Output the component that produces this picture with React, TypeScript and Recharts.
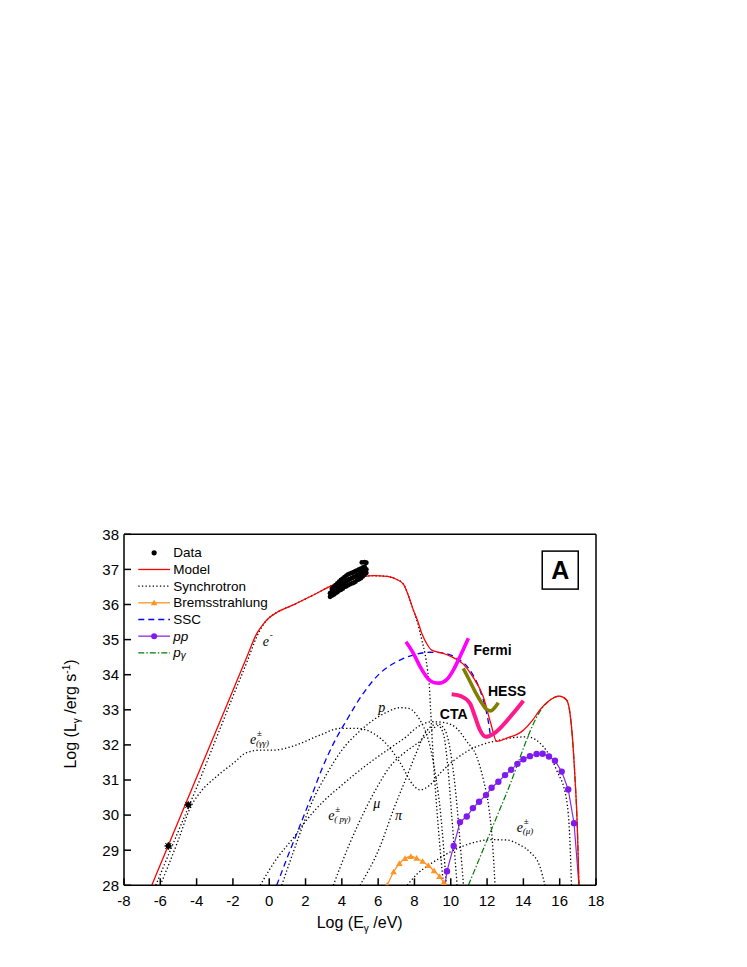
import React from 'react';
import { ComposedChart, Line, Scatter, XAxis, YAxis, ReferenceDot } from 'recharts';

type P = [number, number];

// ---------- ticks ----------
const xMajorTicks = [-8, -6, -4, -2, 0, 2, 4, 6, 8, 10, 12, 14, 16, 18];
const xMinorTicks = [-7, -5, -3, -1, 1, 3, 5, 7, 9, 11, 13, 15, 17];
const yMajorTicks = [28, 29, 30, 31, 32, 33, 34, 35, 36, 37, 38];
const yMinorTicks = [28.5, 29.5, 30.5, 31.5, 32.5, 33.5, 34.5, 35.5, 36.5, 37.5];

// ---------- series ----------
const modelPts: P[] = [
  [-6.47, 28], [-5, 29.83], [-3.5, 31.69], [-2, 33.55], [-1.2, 34.55], [-0.69, 35.17], [-0.36, 35.42],
  [-0.05, 35.6], [0.41, 35.77], [1.33, 35.99], [2.43, 36.27], [3.53, 36.56], [4.6, 36.74], [5.74, 36.82],
  [6.5, 36.8], [7.0, 36.72], [7.39, 36.58], [7.75, 36.13], [7.94, 35.84], [8.16, 35.56], [8.4, 35.18],
  [8.67, 34.89], [8.95, 34.7], [9.5, 34.62], [10.0, 34.52], [10.69, 34.3], [11.2, 33.95], [11.79, 33.37],
  [12.2, 32.62], [12.53, 32.1], [13.08, 32.19], [14.0, 32.42], [14.5, 32.7], [14.91, 33.0], [15.47, 33.28],
  [15.98, 33.39], [16.38, 33.28], [16.65, 32.52], [16.84, 31.09], [16.97, 29.67], [17.06, 28],
];

const syncElectron: P[] = [
  [-6.25, 28], [-5, 29.55], [-4.05, 30.72], [-3, 32.08], [-2, 33.38], [-1.2, 34.4], [-0.69, 35.08],
  [-0.36, 35.4], [-0.05, 35.6], [0.41, 35.77], [1.33, 35.99], [2.43, 36.27], [3.53, 36.56], [4.6, 36.74],
  [5.74, 36.82], [6.5, 36.8], [7.0, 36.72], [7.39, 36.58], [7.75, 36.13], [7.94, 35.84], [8.16, 35.5],
  [8.4, 35.0], [8.58, 34.6], [8.72, 34.13], [8.82, 33.66], [8.9, 32.9], [9.04, 31.6], [9.31, 29.67], [9.6, 28],
];

const syncPairGG: P[] = [
  [-6.0, 28], [-5.0, 29.3], [-4.36, 30.2], [-3.8, 30.65], [-2.9, 31.1], [-2.0, 31.47], [-1.24, 31.78],
  [-0.5, 31.85], [0.23, 31.85], [1.33, 31.97], [2.8, 32.28], [3.9, 32.47], [4.82, 32.47], [5.73, 32.33],
  [6.5, 32.0], [7.2, 31.5], [7.94, 30.85], [8.3, 30.72], [8.86, 30.86], [9.41, 31.19], [10.88, 31.81],
  [12.71, 32.14], [14.18, 32.23], [15.1, 31.95], [15.83, 31.28], [16.38, 30.43], [16.56, 29.29], [16.65, 28],
];

const syncProton: P[] = [
  [0.69, 28], [1.5, 29.2], [2.33, 30.34], [3.2, 31.2], [4.0, 31.85], [5.0, 32.4], [6.0, 32.8], [6.47, 32.93],
  [7.2, 33.06], [7.75, 33.03], [8.12, 32.85], [8.4, 32.62], [8.67, 32.3], [8.86, 31.95], [9.04, 31.5],
  [9.2, 31.0], [9.41, 30.2], [9.6, 29.1], [9.75, 28],
];

const syncPairPG: P[] = [
  [-0.5, 28], [0.4, 28.75], [1.33, 29.35], [2.06, 29.86], [3.0, 30.4], [3.9, 30.81], [4.8, 31.2],
  [5.73, 31.57], [6.5, 31.85], [7.02, 32.04], [7.57, 32.24], [7.94, 32.42], [8.49, 32.6], [9.04, 32.66],
  [9.78, 32.62], [10.33, 32.47], [10.88, 32.1], [11.4, 31.7], [11.8, 31.0], [12.1, 30.2], [12.3, 29.2], [12.44, 28],
];

const syncMuon: P[] = [
  [3.53, 28], [4.4, 29.15], [5.37, 30.24], [6.0, 30.85], [6.65, 31.38], [7.5, 31.8], [8.3, 32.1],
  [8.9, 32.4], [9.3, 32.55], [9.6, 32.3], [9.85, 31.3], [10.05, 30.0], [10.2, 29.0], [10.35, 28],
];

const syncPion: P[] = [
  [5.0, 28], [6.1, 29.1], [6.84, 30.15], [7.57, 31.09], [8.12, 31.8], [8.49, 32.25], [8.86, 32.5],
  [9.3, 32.6], [9.7, 32.4], [10.05, 31.6], [10.3, 30.5], [10.5, 29.3], [10.7, 28],
];

const syncPairMu: P[] = [
  [7.6, 28], [8.1, 28.3], [8.8, 28.58], [9.41, 28.78], [10.0, 28.96], [10.69, 29.12], [11.5, 29.25],
  [12.16, 29.3], [13.08, 29.29], [13.8, 29.15], [14.36, 28.95], [14.91, 28.53], [15.19, 28],
];

const bremsPts: P[] = [
  [6.5, 28.0], [6.85, 28.38], [7.17, 28.62], [7.48, 28.76], [7.8, 28.82], [8.12, 28.77], [8.45, 28.68],
  [8.77, 28.56], [9.08, 28.41], [9.38, 28.25], [9.62, 28.08], [9.75, 28.0],
];

const sscPts: P[] = [
  [0.41, 28], [1.0, 28.8], [1.6, 29.58], [2.3, 30.5], [2.89, 31.3], [3.6, 32.1], [4.27, 32.71], [5.18, 33.47],
  [6.1, 34.04], [7.02, 34.37], [7.94, 34.56], [8.86, 34.64], [9.41, 34.63], [10.33, 34.47], [11.06, 34.13],
  [11.61, 33.56], [11.94, 32.99], [12.12, 32.5], [12.2, 32.2],
];

const ppPts: P[] = [
  [9.68, 28.0], [9.79, 28.4], [10.16, 29.12], [10.51, 29.8], [10.88, 29.96], [11.22, 30.2], [11.56, 30.38],
  [11.94, 30.57], [12.25, 30.78], [12.62, 30.95], [12.99, 31.14], [13.32, 31.29], [13.67, 31.46], [14.0, 31.59],
  [14.36, 31.68], [14.73, 31.74], [15.06, 31.75], [15.41, 31.67], [15.74, 31.55], [16.11, 31.24], [16.47, 30.73],
  [16.79, 29.77], [17.06, 28.0],
];

const pgammaPts: P[] = [
  [10.97, 28], [13.0, 30.53], [15.1, 33.09], [15.47, 33.28], [15.98, 33.39], [16.38, 33.28], [16.65, 32.52],
  [16.84, 31.09], [16.97, 29.67], [17.06, 28],
];

const fermiPts: P[] = [
  [7.53, 34.94], [7.94, 34.61], [8.31, 34.23], [8.76, 33.88], [9.1, 33.77], [9.35, 33.76], [9.78, 33.86],
  [10.14, 34.13], [10.51, 34.52], [10.97, 35.04],
];
const hessPts: P[] = [
  [10.69, 34.18], [10.97, 33.9], [11.34, 33.52], [11.7, 33.2], [11.95, 33.02], [12.2, 32.97], [12.4, 33.05], [12.62, 33.2],
];
const ctaPts: P[] = [
  [10.05, 33.44], [10.6, 33.38], [11.06, 33.18], [11.34, 32.8], [11.61, 32.42], [11.94, 32.23], [12.34, 32.31],
  [12.89, 32.57], [13.44, 32.9], [14.0, 33.26],
];

// observed data (dense band of points) and two low-energy points
const dataBand: P[] = [
  [3.35, 36.22], [3.35, 36.32], [3.45, 36.25], [3.45, 36.38], [3.45, 36.45], [3.55, 36.28], [3.55, 36.4], [3.55, 36.5],
  [3.65, 36.32], [3.65, 36.45], [3.65, 36.55], [3.75, 36.35], [3.75, 36.5], [3.75, 36.6], [3.85, 36.4], [3.85, 36.52],
  [3.85, 36.65], [3.95, 36.42], [3.95, 36.56], [3.95, 36.7], [4.05, 36.45], [4.05, 36.6], [4.05, 36.74], [4.15, 36.5],
  [4.15, 36.62], [4.15, 36.78], [4.25, 36.52], [4.25, 36.67], [4.25, 36.82], [4.35, 36.55], [4.35, 36.7], [4.35, 36.86],
  [4.45, 36.58], [4.45, 36.73], [4.45, 36.88], [4.55, 36.6], [4.55, 36.75], [4.55, 36.9], [4.65, 36.62], [4.65, 36.78],
  [4.65, 36.92], [4.75, 36.65], [4.75, 36.8], [4.75, 36.95], [4.85, 36.7], [4.85, 36.84], [4.85, 36.97], [4.95, 36.72],
  [4.95, 36.86], [4.95, 37.0], [5.05, 36.75], [5.05, 36.9], [5.05, 37.02], [5.15, 36.8], [5.15, 36.92], [5.15, 37.05],
  [5.25, 36.85], [5.25, 36.95], [5.25, 37.08], [5.35, 36.9], [5.35, 37.0], [5.1, 37.2], [5.25, 37.21], [5.35, 37.19],
];
const dataLow: P[] = [[-5.56, 29.12], [-4.46, 30.29]];

// text annotations (data coordinates)
const boldLabels = [
  { text: 'Fermi', x: 12.3, y: 34.56 },
  { text: 'HESS', x: 13.1, y: 33.4 },
  { text: 'CTA', x: 10.16, y: 32.74 },
];
const curveLabels = [
  { base: 'e', sup: '-', sub: '', x: -0.36, y: 34.82 },
  { base: 'e', sup: '\u00B1', sub: '(\u03B3\u03B3)', x: -1.06, y: 32.02 },
  { base: 'p', sup: '', sub: '', x: 6.01, y: 32.94 },
  { base: '\u03BC', sup: '', sub: '', x: 5.73, y: 30.2 },
  { base: '\u03C0', sup: '', sub: '', x: 6.93, y: 29.85 },
  { base: 'e', sup: '\u00B1', sub: '( p\u03B3)', x: 3.25, y: 29.86 },
  { base: 'e', sup: '\u00B1', sub: '(\u03BC)', x: 13.63, y: 29.52 },
];
const panelTag = { text: 'A', x: 16.03, y: 36.98 };

const legendItems = ['Data', 'Model', 'Synchrotron', 'Bremsstrahlung', 'SSC', 'pp', 'p\u03B3'];

const toXY = (pts: P[]) => pts.map(([x, y]) => ({ x, y }));

const SANS = 'Liberation Sans, Arial, sans-serif';
const SERIF = 'Liberation Serif, Times New Roman, serif';
const ORANGE = '#FF9422';
const PURPLE = '#8A2BE2';
const PURPLE_DOT = '#7F1AF0';
const DOTTED = '1.3 2.3';

const ppDot = (props: any) => {
  const { cx, cy, index } = props;
  if (index === 0 || index === ppPts.length - 1) return <g key={`pp${index}`} />;
  return <circle key={`pp${index}`} cx={cx} cy={cy} r={3.2} fill={PURPLE_DOT} />;
};
const bremsDot = (props: any) => {
  const { cx, cy, index } = props;
  if (index === bremsPts.length - 1) return <g key={`br${index}`} />;
  return (
    <path key={`br${index}`} d={`M${cx},${cy - 3.3}L${cx + 3.3},${cy + 2.4}L${cx - 3.3},${cy + 2.4}Z`} fill={ORANGE} />
  );
};
const bandShape = (props: any) => <circle cx={props.cx} cy={props.cy} r={2.4} fill="#000" />;
const lowShape = (props: any) => (
  <g stroke="#000" strokeWidth={1}>
    <circle cx={props.cx} cy={props.cy} r={2.4} fill="#000" />
    <line x1={props.cx - 4} x2={props.cx + 4} y1={props.cy} y2={props.cy} />
    <line x1={props.cx} x2={props.cx} y1={props.cy - 4} y2={props.cy + 4} />
    <line x1={props.cx - 3} x2={props.cx + 3} y1={props.cy - 3} y2={props.cy + 3} />
    <line x1={props.cx - 3} x2={props.cx + 3} y1={props.cy + 3} y2={props.cy - 3} />
  </g>
);

const dottedSeries: P[][] = [syncElectron, syncPairGG, syncProton, syncPairPG, syncMuon, syncPion, syncPairMu];

const axisStroke = { stroke: '#000', strokeWidth: 1.5 };
const tickFont = { fill: '#000', fontSize: 15, fontFamily: SANS };

export default function App() {
  const W = 620;
  const H = 950;
  const legX0 = 130.3;
  const legX1 = 162;
  const legText = 165.3;
  const legBase = 549.3;
  const legStep = 16.67;

  const sample = (i: number) => {
    const y = legBase + i * legStep - 4.5;
    const mid = (legX0 + legX1) / 2;
    switch (i) {
      case 0:
        return <circle cx={mid} cy={y} r={2.6} fill="#000" />;
      case 1:
        return <line x1={legX0} x2={legX1} y1={y} y2={y} stroke="#FF0000" strokeWidth={1.3} />;
      case 2:
        return <line x1={legX0} x2={legX1} y1={y} y2={y} stroke="#000" strokeWidth={1.3} strokeDasharray={DOTTED} />;
      case 3:
        return (
          <g>
            <line x1={legX0} x2={legX1} y1={y} y2={y} stroke={ORANGE} strokeWidth={1.3} />
            <path d={`M${mid},${y - 3.3}L${mid + 3.3},${y + 2.4}L${mid - 3.3},${y + 2.4}Z`} fill={ORANGE} />
          </g>
        );
      case 4:
        return <line x1={legX0} x2={legX1} y1={y} y2={y} stroke="#0000FF" strokeWidth={1.3} strokeDasharray="6 4" />;
      case 5:
        return (
          <g>
            <line x1={legX0} x2={legX1} y1={y} y2={y} stroke={PURPLE} strokeWidth={1.3} />
            <circle cx={mid} cy={y} r={3} fill={PURPLE_DOT} />
          </g>
        );
      default:
        return (
          <line x1={legX0} x2={legX1} y1={y} y2={y} stroke="#007A00" strokeWidth={1.3} strokeDasharray="6 2 1.5 2" />
        );
    }
  };

  return (
    <div style={{ position: 'relative', width: W, height: H }}>
      <ComposedChart width={W} height={H} margin={{ top: 526.3, right: 32, bottom: 12.7, left: 56 }}>
        <XAxis
          xAxisId={0}
          type="number"
          dataKey="x"
          domain={[-8, 18]}
          ticks={xMajorTicks}
          interval={0}
          allowDataOverflow
          height={60}
          tickSize={-7}
          tickMargin={17}
          axisLine={axisStroke}
          tickLine={axisStroke}
          tick={tickFont}
        />
        <XAxis xAxisId="bmin" type="number" dataKey="x" domain={[-8, 18]} ticks={xMinorTicks} interval={0}
          allowDataOverflow mirror orientation="bottom" height={20} tickSize={4} tick={false}
          axisLine={false} tickLine={axisStroke} />
        <XAxis xAxisId="tmaj" type="number" dataKey="x" domain={[-8, 18]} ticks={xMajorTicks} interval={0}
          allowDataOverflow mirror orientation="top" height={20} tickSize={7} tick={false}
          axisLine={axisStroke} tickLine={axisStroke} />
        <XAxis xAxisId="tmin" type="number" dataKey="x" domain={[-8, 18]} ticks={xMinorTicks} interval={0}
          allowDataOverflow mirror orientation="top" height={20} tickSize={4} tick={false}
          axisLine={false} tickLine={axisStroke} />
        <YAxis
          yAxisId={0}
          type="number"
          dataKey="y"
          domain={[28, 38]}
          ticks={yMajorTicks}
          interval={0}
          allowDataOverflow
          width={60}
          tickSize={-7}
          tickMargin={12}
          axisLine={axisStroke}
          tickLine={axisStroke}
          tick={tickFont}
        />
        <YAxis yAxisId="lmin" type="number" dataKey="y" domain={[28, 38]} ticks={yMinorTicks} interval={0}
          allowDataOverflow mirror orientation="left" width={20} tickSize={4} tick={false}
          axisLine={false} tickLine={axisStroke} />
        <YAxis yAxisId="rmaj" type="number" dataKey="y" domain={[28, 38]} ticks={yMajorTicks} interval={0}
          allowDataOverflow mirror orientation="right" width={20} tickSize={7} tick={false}
          axisLine={axisStroke} tickLine={axisStroke} />
        <YAxis yAxisId="rmin" type="number" dataKey="y" domain={[28, 38]} ticks={yMinorTicks} interval={0}
          allowDataOverflow mirror orientation="right" width={20} tickSize={4} tick={false}
          axisLine={false} tickLine={axisStroke} />

        {dottedSeries.map((pts, i) => (
          <Line
            key={`sync${i}`}
            data={toXY(pts)}
            dataKey="y"
            type="monotone"
            stroke="#000"
            strokeWidth={1.3}
            strokeDasharray={DOTTED}
            dot={false}
            activeDot={false}
            isAnimationActive={false}
          />
        ))}
        <Line data={toXY(sscPts)} dataKey="y" type="monotone" stroke="#0000FF" strokeWidth={1.3}
          strokeDasharray="6 4" dot={false} activeDot={false} isAnimationActive={false} />
        <Line data={toXY(bremsPts)} dataKey="y" type="monotone" stroke={ORANGE} strokeWidth={1.3}
          dot={bremsDot} activeDot={false} isAnimationActive={false} />
        <Line data={toXY(ppPts)} dataKey="y" type="linear" stroke={PURPLE} strokeWidth={1.2}
          dot={ppDot} activeDot={false} isAnimationActive={false} />
        <Line data={toXY(pgammaPts)} dataKey="y" type="monotone" stroke="#007A00" strokeWidth={1.2}
          strokeDasharray="6 2 1.5 2" dot={false} activeDot={false} isAnimationActive={false} />
        <Scatter data={toXY(dataBand)} dataKey="y" shape={bandShape} isAnimationActive={false} />
        <Scatter data={toXY(dataLow)} dataKey="y" shape={lowShape} isAnimationActive={false} />
        <Line data={toXY(modelPts)} dataKey="y" type="monotone" stroke="#FF0000" strokeWidth={1.3}
          dot={false} activeDot={false} isAnimationActive={false} />
        <Line data={toXY(fermiPts)} dataKey="y" type="monotone" stroke="#FF00FF" strokeWidth={3.6}
          dot={false} activeDot={false} isAnimationActive={false} />
        <Line data={toXY(hessPts)} dataKey="y" type="monotone" stroke="#7F7F00" strokeWidth={3.6}
          dot={false} activeDot={false} isAnimationActive={false} />
        <Line data={toXY(ctaPts)} dataKey="y" type="monotone" stroke="#FF1A8C" strokeWidth={4}
          dot={false} activeDot={false} isAnimationActive={false} />

        {boldLabels.map((l) => (
          <ReferenceDot
            key={l.text}
            x={l.x}
            y={l.y}
            r={0}
            ifOverflow="visible"
            shape={(p: any) => (
              <text x={p.cx} y={p.cy} textAnchor="middle" fontFamily={SANS} fontWeight="bold" fontSize={14} fill="#000">
                {l.text}
              </text>
            )}
          />
        ))}
        {curveLabels.map((l, i) => (
          <ReferenceDot
            key={`cl${i}`}
            x={l.x}
            y={l.y}
            r={0}
            ifOverflow="visible"
            shape={(p: any) => (
              <g fontFamily={SERIF} fill="#000">
                <text x={p.cx} y={p.cy} fontSize={14} fontStyle="italic">{l.base}</text>
                {l.sup ? <text x={p.cx + 7} y={p.cy - 8} fontSize={9}>{l.sup}</text> : null}
                {l.sub ? <text x={p.cx + 6} y={p.cy + 2} fontSize={9} fontStyle="italic">{l.sub}</text> : null}
              </g>
            )}
          />
        ))}
        <ReferenceDot
          x={panelTag.x}
          y={panelTag.y}
          r={0}
          ifOverflow="visible"
          shape={(p: any) => (
            <g>
              <rect x={p.cx - 18} y={p.cy - 19} width={36} height={38} fill="#fff" stroke="#000" strokeWidth={1.5} />
              <text x={p.cx} y={p.cy + 9} textAnchor="middle" fontFamily={SANS} fontWeight="bold" fontSize={25} fill="#000">
                {panelTag.text}
              </text>
            </g>
          )}
        />
      </ComposedChart>

      <svg
        width={W}
        height={H}
        style={{ position: 'absolute', left: 0, top: 0, pointerEvents: 'none' }}
      >
        {legendItems.map((name, i) => (
          <g key={name}>
            {sample(i)}
            <text
              x={legText}
              y={legBase + i * legStep}
              fontFamily={SANS}
              fontSize={13.5}
              fill="#000"
              fontStyle={i >= 5 ? 'italic' : 'normal'}
            >
              {i === 6 ? (
                <>
                  p<tspan fontSize={10} dy={2}>{'\u03B3'}</tspan>
                </>
              ) : (
                name
              )}
            </text>
          </g>
        ))}
        <text x={351.7} y={920} textAnchor="middle" fontFamily={SANS} fontSize={16} fill="#000">
          Log (E<tspan fontSize={10} dy={4}>{'\u03B3'}</tspan>
          <tspan dy={-4}> /eV)</tspan>
        </text>
        <text
          transform="translate(68,706) rotate(-90)"
          textAnchor="middle"
          fontFamily={SANS}
          fontSize={16}
          fill="#000"
        >
          Log (L<tspan fontSize={10} dy={4}>{'\u03B3'}</tspan>
          <tspan dy={-4}> /erg s</tspan>
          <tspan fontSize={10} dy={-6}>-1</tspan>
          <tspan dy={6}>)</tspan>
        </text>
      </svg>
    </div>
  );
}
